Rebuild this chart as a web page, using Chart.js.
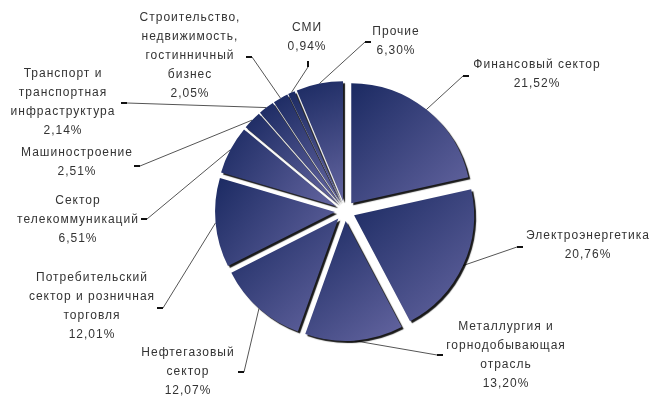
<!DOCTYPE html>
<html>
<head>
<meta charset="utf-8">
<script src="https://cdn.jsdelivr.net/npm/chart.js@4.4.1/dist/chart.umd.min.js"></script>
<style>
  html, body { margin: 0; padding: 0; background: #fff; }
</style>
</head>
<body>
<canvas id="sectorChart" width="654" height="399"></canvas>
<script>
// Sectors, clockwise from 12 o'clock
const categories = [
  'Финансовый сектор',
  'Электроэнергетика',
  'Металлургия и\nгорнодобывающая\nотрасль',
  'Нефтегазовый\nсектор',
  'Потребительский\nсектор и розничная\nторговля',
  'Сектор\nтелекоммуникаций',
  'Машиностроение',
  'Транспорт и\nтранспортная\nинфраструктура',
  'Строительство,\nнедвижимость,\nгостинничный\nбизнес',
  'СМИ',
  'Прочие'
];
const shares = [21.52, 20.76, 13.20, 12.07, 12.01, 6.51, 2.51, 2.14, 2.05, 0.94, 6.30];

// label block: centre x, first line y
const labelAt = [
  [537, 65], [588, 236], [506, 327], [188, 353], [92, 278], [78, 201],
  [77, 153], [63, 74], [190, 18], [307, 28], [396, 32]
];
// where the leader line meets its label, plus the short tick after it
const tickAt = [
  [463, 76, 469, 76], [517, 247, 523, 247], [437, 355, 443, 355],
  [244, 372, 238, 372], [163, 308, 157, 308], [147, 219, 141, 219],
  [140, 166, 134, 166], [127, 103, 121, 103], [252, 57, 246, 57],
  [308, 67, 308, 61], [365, 42, 371, 42]
];

const EXPLODE = 10;
const LINE_H = 19;

function sliceBox(arc) {
  let x0 = arc.x, x1 = arc.x, y0 = arc.y, y1 = arc.y;
  for (let i = 0; i <= 24; i++) {
    const a = arc.startAngle + (arc.endAngle - arc.startAngle) * i / 24;
    const px = arc.x + Math.cos(a) * arc.outerRadius;
    const py = arc.y + Math.sin(a) * arc.outerRadius;
    x0 = Math.min(x0, px); x1 = Math.max(x1, px);
    y0 = Math.min(y0, py); y1 = Math.max(y1, py);
  }
  return { x0, y0, x1, y1 };
}

const pctText = v => v.toFixed(2).replace('.', ',') + '%';

const explodedPie = {
  id: 'explodedPie',
  afterDatasetUpdate(chart, args) {
    const ctx = chart.ctx;
    args.meta.data.forEach(arc => {
      const mid = (arc.startAngle + arc.endAngle) / 2;
      arc.x += Math.cos(mid) * EXPLODE;
      arc.y += Math.sin(mid) * EXPLODE;
      const b = sliceBox(arc);
      const g = ctx.createLinearGradient(b.x0, b.y0, b.x1, b.y1);
      g.addColorStop(0, '#1b2a62');
      g.addColorStop(1, '#6465a0');
      arc.options.backgroundColor = g;
    });
  },
  beforeDatasetsDraw(chart) {
    const ctx = chart.ctx;
    const arcs = chart.getDatasetMeta(0).data;
    ctx.save();
    arcs.forEach((arc, i) => {
      const mid = (arc.startAngle + arc.endAngle) / 2;
      const sx = arc.x + Math.cos(mid) * arc.outerRadius;
      const sy = arc.y + Math.sin(mid) * arc.outerRadius;
      const [tx, ty, ex, ey] = tickAt[i];
      ctx.strokeStyle = '#555';
      ctx.lineWidth = 1;
      ctx.beginPath();
      ctx.moveTo(sx, sy);
      ctx.lineTo(tx, ty);
      ctx.stroke();
      ctx.strokeStyle = '#111';
      ctx.lineWidth = 2;
      ctx.beginPath();
      ctx.moveTo(tx, ty);
      ctx.lineTo(ex, ey);
      ctx.stroke();
    });
    ctx.restore();
    // drop shadow under the slices
    ctx.save();
    ctx.shadowColor = 'rgba(0,0,0,0.9)';
    ctx.shadowOffsetX = 2;
    ctx.shadowOffsetY = 2;
    ctx.shadowBlur = 1;
  },
  afterDatasetsDraw(chart) {
    const ctx = chart.ctx;
    ctx.restore();
    ctx.save();
    ctx.font = '12px "Liberation Sans", Arial, sans-serif';
    ctx.letterSpacing = '1px';
    ctx.fillStyle = '#333';
    ctx.textAlign = 'center';
    ctx.textBaseline = 'middle';
    categories.forEach((name, i) => {
      const lines = name.split('\n').concat(pctText(shares[i]));
      const [cx, cy] = labelAt[i];
      lines.forEach((t, k) => ctx.fillText(t, cx, cy + k * LINE_H));
    });
    ctx.restore();
  }
};

new Chart(document.getElementById('sectorChart'), {
  type: 'pie',
  data: {
    labels: categories,
    datasets: [{
      data: shares,
      backgroundColor: categories.map(() => '#3a3f7a'),
      borderWidth: 0
    }]
  },
  options: {
    responsive: false,
    animation: false,
    radius: 120,
    layout: { padding: { left: 36, top: 23, right: 0, bottom: 0 } },
    plugins: {
      legend: { display: false },
      tooltip: { enabled: false }
    }
  },
  plugins: [explodedPie]
});
</script>
</body>
</html>
